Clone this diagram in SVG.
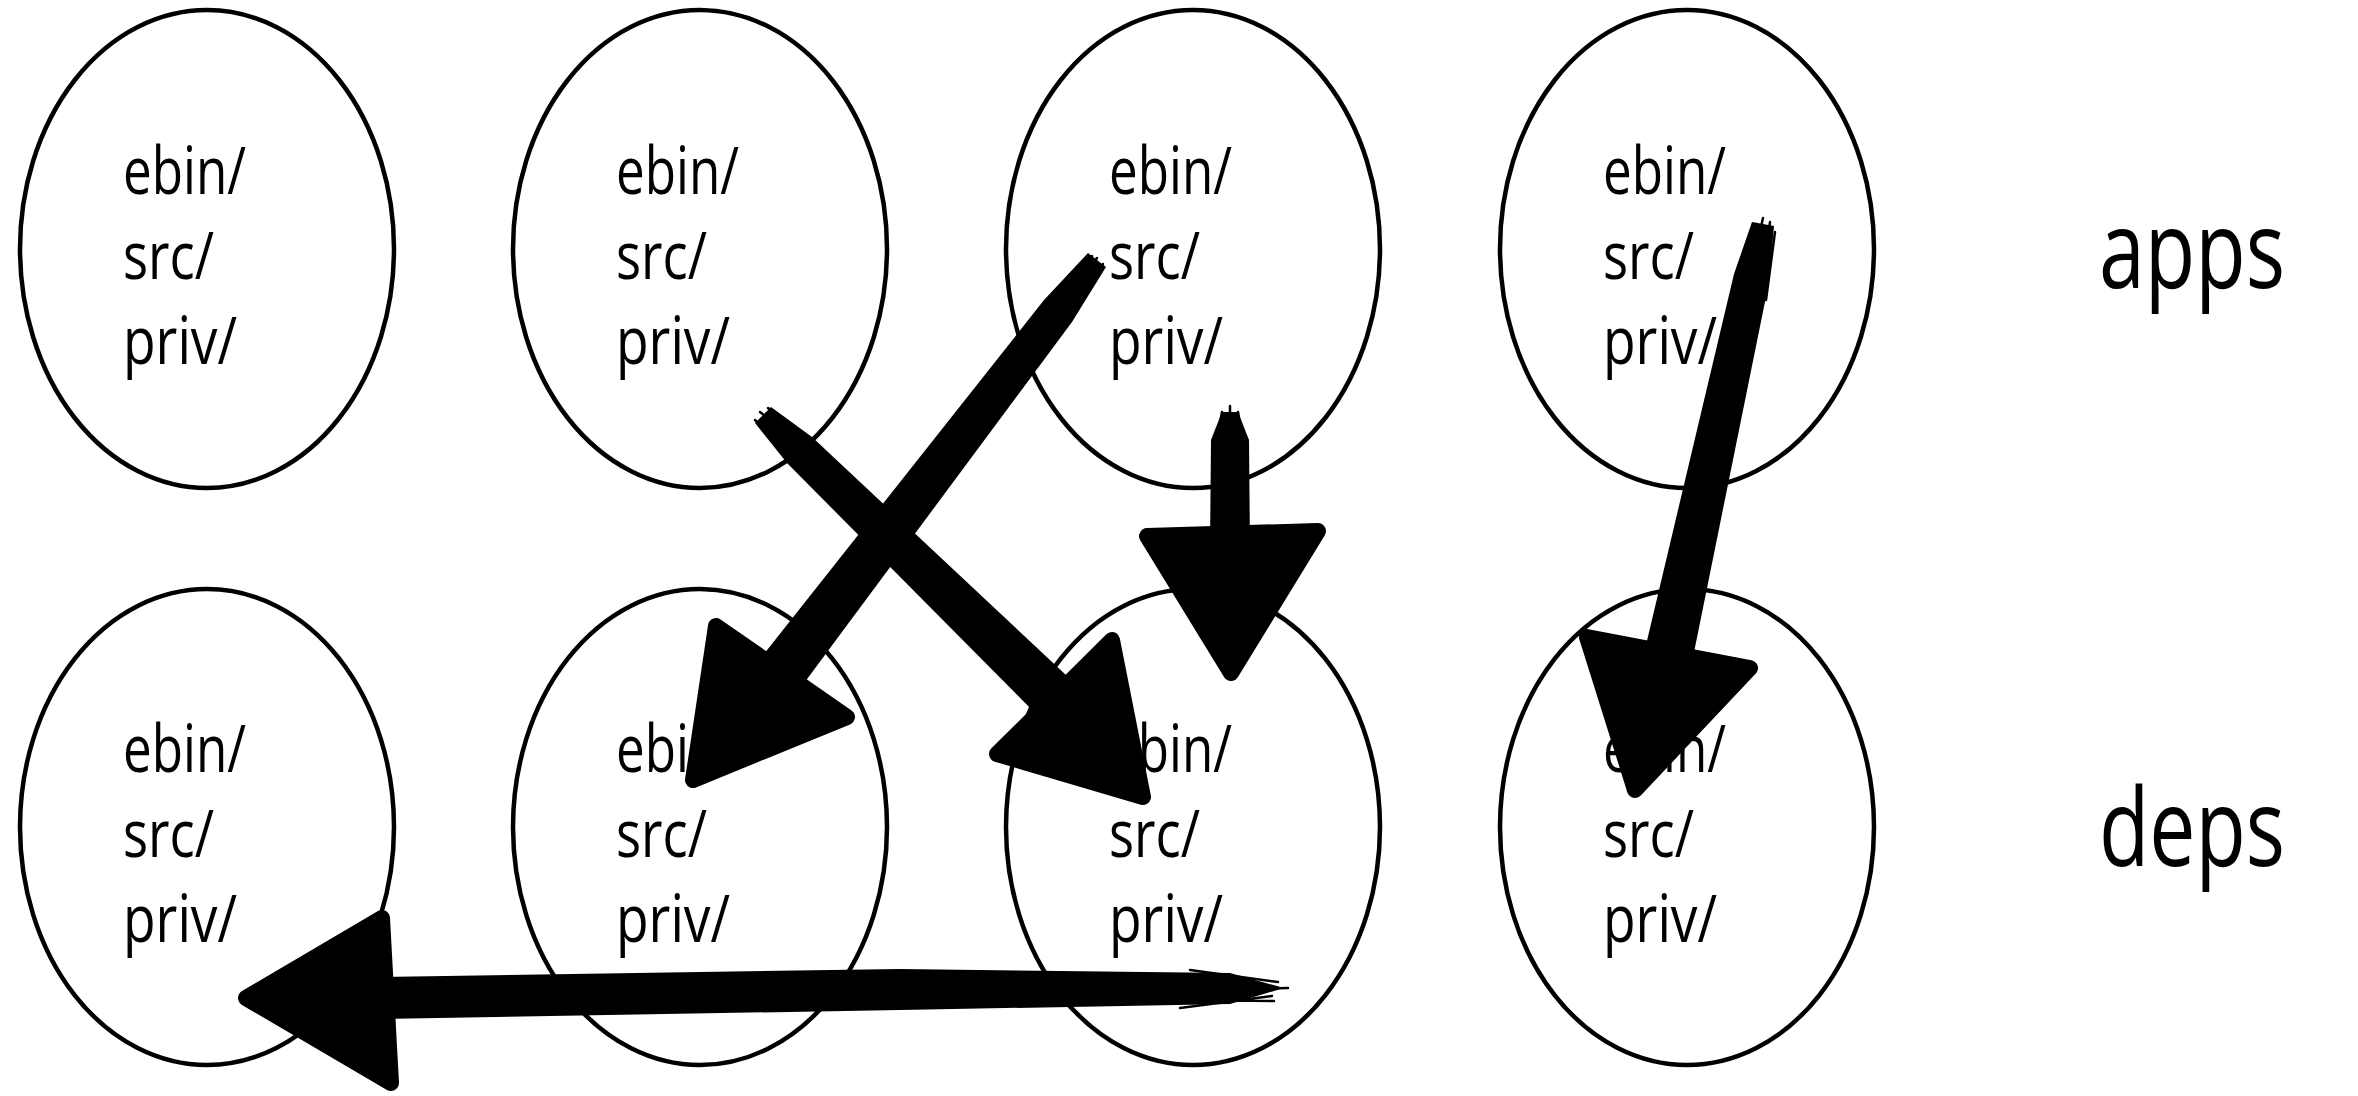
<svg xmlns="http://www.w3.org/2000/svg" width="2358" height="1096" viewBox="0 0 2358 1096">
<style>
.node ellipse{fill:none;stroke:#000;stroke-width:4.5}
.node text,.label{font-family:"Open Sans","Noto Sans","DejaVu Sans",sans-serif;fill:#000}
.node text{font-size:65px}
.label{font-size:108px}
.shaft{fill:#000}
.head{fill:#000;stroke:#000;stroke-width:16;stroke-linejoin:round}
.bristle{fill:none;stroke:#000;stroke-width:2.5;stroke-linecap:round}
</style>
<rect width="2358" height="1096" fill="#fff"/>
<g id="app1" class="node"><ellipse cx="207" cy="249" rx="187" ry="239"/><text x="123" y="194" textLength="123" lengthAdjust="spacingAndGlyphs">ebin/</text><text x="123" y="279" textLength="91" lengthAdjust="spacingAndGlyphs">src/</text><text x="123" y="364" textLength="114" lengthAdjust="spacingAndGlyphs">priv/</text></g>
<g id="app2" class="node"><ellipse cx="700" cy="249" rx="187" ry="239"/><text x="616" y="194" textLength="123" lengthAdjust="spacingAndGlyphs">ebin/</text><text x="616" y="279" textLength="91" lengthAdjust="spacingAndGlyphs">src/</text><text x="616" y="364" textLength="114" lengthAdjust="spacingAndGlyphs">priv/</text></g>
<g id="app3" class="node"><ellipse cx="1193" cy="249" rx="187" ry="239"/><text x="1109" y="194" textLength="123" lengthAdjust="spacingAndGlyphs">ebin/</text><text x="1109" y="279" textLength="91" lengthAdjust="spacingAndGlyphs">src/</text><text x="1109" y="364" textLength="114" lengthAdjust="spacingAndGlyphs">priv/</text></g>
<g id="app4" class="node"><ellipse cx="1687" cy="249" rx="187" ry="239"/><text x="1603" y="194" textLength="123" lengthAdjust="spacingAndGlyphs">ebin/</text><text x="1603" y="279" textLength="91" lengthAdjust="spacingAndGlyphs">src/</text><text x="1603" y="364" textLength="114" lengthAdjust="spacingAndGlyphs">priv/</text></g>
<g id="dep1" class="node"><ellipse cx="207" cy="827" rx="187" ry="238"/><text x="123" y="772" textLength="123" lengthAdjust="spacingAndGlyphs">ebin/</text><text x="123" y="857" textLength="91" lengthAdjust="spacingAndGlyphs">src/</text><text x="123" y="942" textLength="114" lengthAdjust="spacingAndGlyphs">priv/</text></g>
<g id="dep2" class="node"><ellipse cx="700" cy="827" rx="187" ry="238"/><text x="616" y="772" textLength="123" lengthAdjust="spacingAndGlyphs">ebin/</text><text x="616" y="857" textLength="91" lengthAdjust="spacingAndGlyphs">src/</text><text x="616" y="942" textLength="114" lengthAdjust="spacingAndGlyphs">priv/</text></g>
<g id="dep3" class="node"><ellipse cx="1193" cy="827" rx="187" ry="238"/><text x="1109" y="772" textLength="123" lengthAdjust="spacingAndGlyphs">ebin/</text><text x="1109" y="857" textLength="91" lengthAdjust="spacingAndGlyphs">src/</text><text x="1109" y="942" textLength="114" lengthAdjust="spacingAndGlyphs">priv/</text></g>
<g id="dep4" class="node"><ellipse cx="1687" cy="827" rx="187" ry="238"/><text x="1603" y="772" textLength="123" lengthAdjust="spacingAndGlyphs">ebin/</text><text x="1603" y="857" textLength="91" lengthAdjust="spacingAndGlyphs">src/</text><text x="1603" y="942" textLength="114" lengthAdjust="spacingAndGlyphs">priv/</text></g>
<g id="labels">
<text class="label" x="2099" y="288" textLength="186" lengthAdjust="spacingAndGlyphs">apps</text>
<text class="label" x="2099" y="866" textLength="186" lengthAdjust="spacingAndGlyphs">deps</text>
</g>
<g id="connectors">
<g id="a-app3-dep2">
<path class="shaft" d="M1088,253 L1106,267 L1072,322 L793,698 L753,668 L1044,300 Z"/>
<path class="bristle" d="M1097,258 L1050,318 M1092,256 L1040,322 M1103,264 L1062,320 M1084,262 L1036,330"/>
<polygon class="head" points="693,780 716,626 847,717"/>
</g>
<g id="a-app2-dep3">
<path class="shaft" d="M755,423 L771,407 L812,437 L1082,690 L1048,726 L787,463 Z"/>
<path class="bristle" d="M760,412 L812,452 M755,420 L800,462 M768,408 L818,446 M764,428 L810,468"/>
<polygon class="head" points="1143,797 1112,640 997,754"/>
</g>
<g id="a-app3-dep3">
<path class="shaft" d="M1222,412 L1238,412 L1249,440 L1250,550 L1210,550 L1211,440 Z"/>
<path class="bristle" d="M1222,412 L1214,460 M1238,412 L1246,460 M1230,406 L1230,450"/>
<polygon class="head" points="1147,536 1318,531 1231,673"/>
</g>
<g id="a-app4-dep4">
<path class="shaft" d="M1752,222 L1774,226 L1769,282 L1689,677 L1641,666 L1734,274 Z"/>
<path class="bristle" d="M1763,218 L1745,300 M1770,222 L1760,300 M1756,224 L1738,290 M1775,232 L1766,300"/>
<polygon class="head" points="1587,637 1750,668 1635,790"/>
</g>
<g id="a-dep3-dep1">
<path class="shaft" d="M1284,988 L1230,973 L900,969 L380,977 L380,1019 L900,1010 L1230,1004 Z"/>
<path class="bristle" d="M1190,970 L1278,982 M1180,1008 L1272,996 M1230,990 L1288,988 M1200,1000 L1274,1001"/>
<polygon class="head" points="382,918 391,1083 246,998"/>
</g>
</g>
</svg>
